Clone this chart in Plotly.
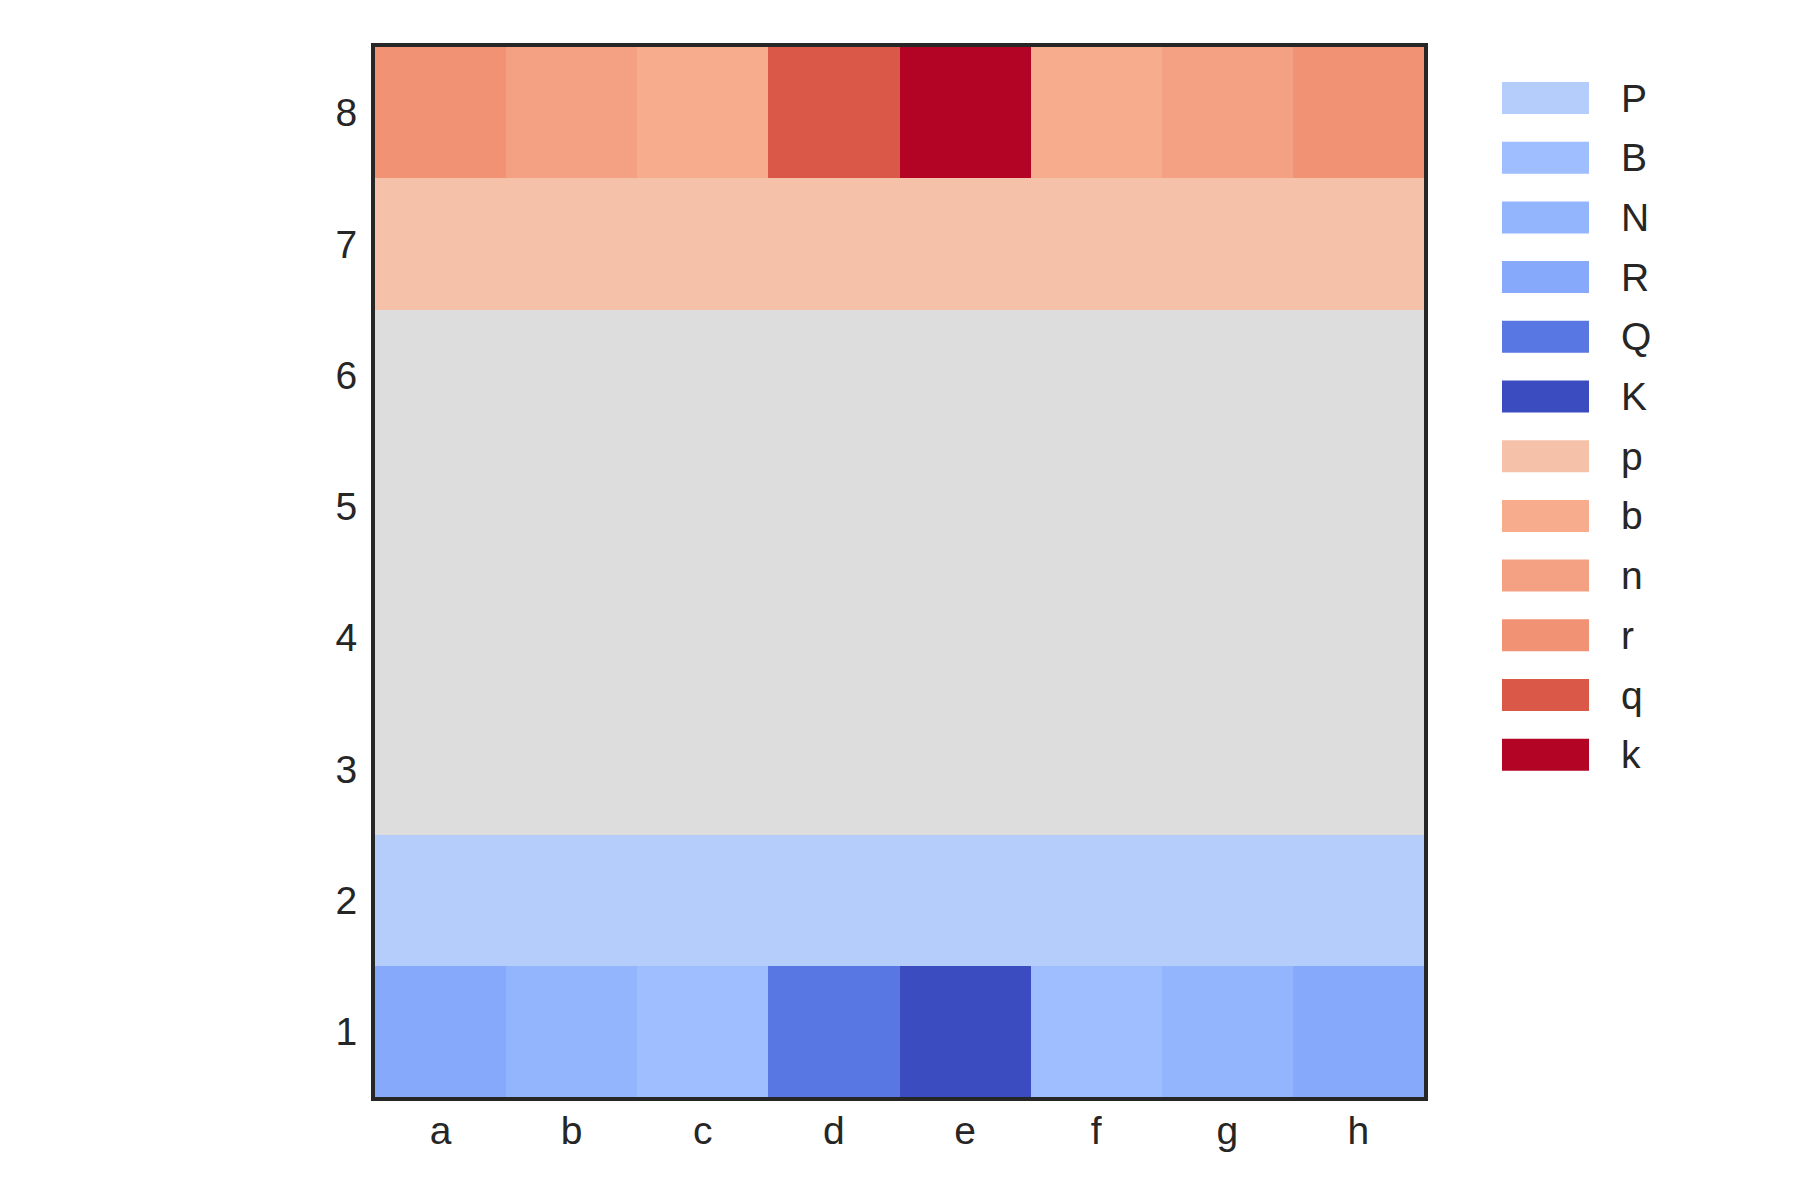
import plotly.graph_objects as go

files = ["a", "b", "c", "d", "e", "f", "g", "h"]
ranks = ["1", "2", "3", "4", "5", "6", "7", "8"]
# board rows from rank 1 (bottom) to rank 8 (top); "." = empty square
board_rows = [
    "RNBQKBNR",
    "PPPPPPPP",
    "........",
    "........",
    "........",
    "........",
    "pppppppp",
    "rnbqkbnr",
]
pieces = ["P", "B", "N", "R", "Q", "K", "p", "b", "n", "r", "q", "k"]
piece_colors = ["#b5cdfa", "#9ebeff", "#93b5fe", "#86a9fc", "#5977e3", "#3b4cc0",
                "#f5c1a9", "#f7ac8e", "#f4a183", "#f29274", "#d95847", "#b40426"]
empty_color = "#dddddd"

all_colors = piece_colors + [empty_color]
n = len(all_colors)
idx = {p: i for i, p in enumerate(pieces)}
z = [[idx.get(ch, n - 1) for ch in row] for row in board_rows]
text = [[ch if ch != "." else "empty" for ch in row] for row in board_rows]

colorscale = []
for i, c in enumerate(all_colors):
    colorscale.append([i / n, c])
    colorscale.append([(i + 1) / n, c])

fig = go.Figure()
fig.add_trace(go.Heatmap(
    x=files, y=ranks, z=z, text=text,
    colorscale=colorscale, zmin=-0.5, zmax=n - 0.5,
    showscale=False, hovertemplate="%{x}%{y}: %{text}<extra></extra>",
))

font_family = "Liberation Sans, Arial, sans-serif"
axis_common = dict(
    showline=True, mirror=True, linewidth=4, linecolor="#262626",
    ticks="", showgrid=False, zeroline=False,
    tickfont=dict(family=font_family, size=39, color="#262626"),
)
fig.update_xaxes(**axis_common, ticklabelstandoff=-4)
fig.update_yaxes(**axis_common, ticklabelstandoff=6)

# page offset (body margin) compensation
off = 8
W, H = 1800, 1200
pw, ph = 1049, 1050
ml, mt = 375 - off, 47 - off
mr, mb = W - ml - pw, H - mt - ph

def px_to_paper_x(px):
    return (px - off - ml) / pw

def px_to_paper_y(py):
    return 1 - (py - off - mt) / ph

shapes = []
annotations = []
top0, step, sh = 82, 59.7, 32
for i, (p, c) in enumerate(zip(pieces, piece_colors)):
    y0 = top0 + i * step
    shapes.append(dict(
        type="rect", xref="paper", yref="paper",
        x0=px_to_paper_x(1502), x1=px_to_paper_x(1589),
        y0=px_to_paper_y(y0 + sh), y1=px_to_paper_y(y0),
        fillcolor=c, line=dict(width=0), layer="above",
    ))
    annotations.append(dict(
        xref="paper", yref="paper", x=px_to_paper_x(1619), y=px_to_paper_y(y0 + sh / 2),
        text=p, showarrow=False, xanchor="left", yanchor="middle",
        font=dict(family=font_family, size=39, color="#262626"),
    ))

fig.update_layout(
    width=W, height=H,
    margin=dict(l=ml, r=mr, t=mt, b=mb),
    paper_bgcolor="white", plot_bgcolor="white",
    shapes=shapes, annotations=annotations,
    showlegend=False,
)

fig.write_html("out.html")
